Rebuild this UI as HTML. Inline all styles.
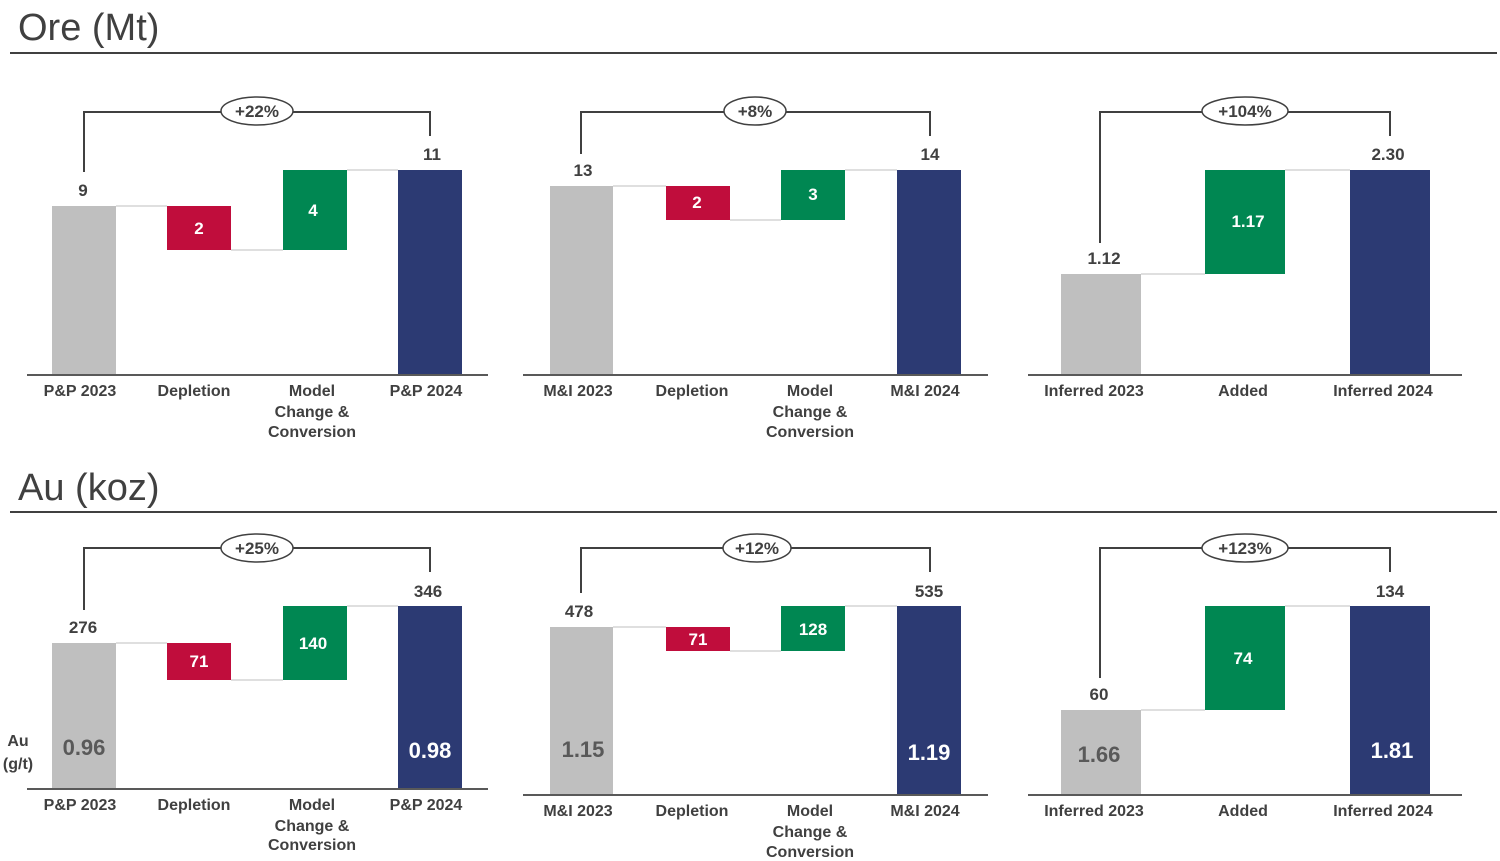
<!DOCTYPE html>
<html><head><meta charset="utf-8"><style>
html,body{margin:0;padding:0;background:#fff;}
svg{display:block;font-family:"Liberation Sans",Arial,sans-serif;}
.c{font-size:16px;font-weight:bold;fill:#404040;text-anchor:middle;}
.v{font-size:17px;font-weight:bold;fill:#404040;text-anchor:middle;}
.w{font-size:17px;font-weight:bold;fill:#fff;text-anchor:middle;}
.bg{font-size:22px;font-weight:bold;text-anchor:middle;}
.p{font-size:17px;font-weight:bold;fill:#404040;text-anchor:middle;}
.t{font-size:38px;fill:#404040;}
.br{fill:none;stroke:#404040;stroke-width:2;}
.cn{stroke:#bfbfbf;stroke-width:1;}
.ax{stroke:#595959;stroke-width:2;}
.el{fill:#fff;stroke:#404040;stroke-width:1.5;}
</style></head><body>
<svg width="1500" height="861" viewBox="0 0 1500 861">
<!-- titles -->
<text class="t" x="18" y="40">Ore (Mt)</text>
<line x1="10" y1="53" x2="1497" y2="53" stroke="#404040" stroke-width="2"/>
<text class="t" x="18" y="500">Au (koz)</text>
<line x1="10" y1="512" x2="1497" y2="512" stroke="#404040" stroke-width="2"/>

<!-- Ore panel 1 -->
<line class="cn" x1="116" y1="206" x2="167" y2="206"/><line class="cn" x1="231" y1="250" x2="283" y2="250"/><line class="cn" x1="347" y1="170" x2="398" y2="170"/>
<rect x="52" y="206" width="64" height="168" fill="#bfbfbf"/>
<rect x="167" y="206" width="64" height="44" fill="#c00d3c"/>
<rect x="283" y="170" width="64" height="80" fill="#008752"/>
<rect x="398" y="170" width="64" height="204" fill="#2c3a73"/>
<line class="ax" x1="27" y1="375" x2="488" y2="375"/>
<text class="v" x="83" y="196">9</text><text class="w" x="199" y="234">2</text><text class="w" x="313" y="216">4</text><text class="v" x="432" y="160">11</text>
<polyline class="br" points="84,172 84,112 430,112 430,136"/>
<ellipse class="el" cx="257" cy="111" rx="36" ry="14"/><text class="p" x="257" y="117">+22%</text>
<text class="c" x="80" y="396">P&amp;P 2023</text><text class="c" x="194" y="396">Depletion</text>
<text class="c" x="312" y="396">Model</text><text class="c" x="312" y="417">Change &amp;</text><text class="c" x="312" y="437">Conversion</text>
<text class="c" x="426" y="396">P&amp;P 2024</text>

<!-- Ore panel 2 -->
<line class="cn" x1="613" y1="186" x2="666" y2="186"/><line class="cn" x1="730" y1="220" x2="781" y2="220"/><line class="cn" x1="845" y1="170" x2="897" y2="170"/>
<rect x="550" y="186" width="63" height="188" fill="#bfbfbf"/>
<rect x="666" y="186" width="64" height="34" fill="#c00d3c"/>
<rect x="781" y="170" width="64" height="50" fill="#008752"/>
<rect x="897" y="170" width="64" height="204" fill="#2c3a73"/>
<line class="ax" x1="523" y1="375" x2="988" y2="375"/>
<text class="v" x="583" y="176">13</text><text class="w" x="697" y="208">2</text><text class="w" x="813" y="200">3</text><text class="v" x="930" y="160">14</text>
<polyline class="br" points="581,154 581,112 930,112 930,136"/>
<ellipse class="el" cx="755" cy="111" rx="31" ry="14"/><text class="p" x="755" y="117">+8%</text>
<text class="c" x="578" y="396">M&amp;I 2023</text><text class="c" x="692" y="396">Depletion</text>
<text class="c" x="810" y="396">Model</text><text class="c" x="810" y="417">Change &amp;</text><text class="c" x="810" y="437">Conversion</text>
<text class="c" x="925" y="396">M&amp;I 2024</text>

<!-- Ore panel 3 -->
<line class="cn" x1="1141" y1="274" x2="1205" y2="274"/><line class="cn" x1="1285" y1="170" x2="1350" y2="170"/>
<rect x="1061" y="274" width="80" height="100" fill="#bfbfbf"/>
<rect x="1205" y="170" width="80" height="104" fill="#008752"/>
<rect x="1350" y="170" width="80" height="204" fill="#2c3a73"/>
<line class="ax" x1="1028" y1="375" x2="1462" y2="375"/>
<text class="v" x="1104" y="264">1.12</text><text class="w" x="1248" y="227">1.17</text><text class="v" x="1388" y="160">2.30</text>
<polyline class="br" points="1100,243 1100,112 1390,112 1390,136"/>
<ellipse class="el" cx="1245" cy="111" rx="43" ry="14"/><text class="p" x="1245" y="117">+104%</text>
<text class="c" x="1094" y="396">Inferred 2023</text><text class="c" x="1243" y="396">Added</text><text class="c" x="1383" y="396">Inferred 2024</text>

<!-- Au panel 1 -->
<line class="cn" x1="116" y1="643" x2="167" y2="643"/><line class="cn" x1="231" y1="680" x2="283" y2="680"/><line class="cn" x1="347" y1="606" x2="398" y2="606"/>
<rect x="52" y="643" width="64" height="145" fill="#bfbfbf"/>
<rect x="167" y="643" width="64" height="37" fill="#c00d3c"/>
<rect x="283" y="606" width="64" height="74" fill="#008752"/>
<rect x="398" y="606" width="64" height="182" fill="#2c3a73"/>
<line class="ax" x1="27" y1="789" x2="488" y2="789"/>
<text class="v" x="83" y="633">276</text><text class="w" x="199" y="667">71</text><text class="w" x="313" y="649">140</text><text class="v" x="428" y="597">346</text>
<text class="bg" x="84" y="755" fill="#595959">0.96</text><text class="bg" x="430" y="758" fill="#fff">0.98</text>
<polyline class="br" points="84,610 84,548 430,548 430,572"/>
<ellipse class="el" cx="257" cy="548" rx="36" ry="14"/><text class="p" x="257" y="554">+25%</text>
<text class="c" x="18" y="746">Au</text><text class="c" x="18" y="769">(g/t)</text>
<text class="c" x="80" y="810">P&amp;P 2023</text><text class="c" x="194" y="810">Depletion</text>
<text class="c" x="312" y="810">Model</text><text class="c" x="312" y="831">Change &amp;</text><text class="c" x="312" y="850">Conversion</text>
<text class="c" x="426" y="810">P&amp;P 2024</text>

<!-- Au panel 2 -->
<line class="cn" x1="613" y1="627" x2="666" y2="627"/><line class="cn" x1="730" y1="651" x2="781" y2="651"/><line class="cn" x1="845" y1="606" x2="897" y2="606"/>
<rect x="550" y="627" width="63" height="167" fill="#bfbfbf"/>
<rect x="666" y="627" width="64" height="24" fill="#c00d3c"/>
<rect x="781" y="606" width="64" height="45" fill="#008752"/>
<rect x="897" y="606" width="64" height="188" fill="#2c3a73"/>
<line class="ax" x1="523" y1="795" x2="988" y2="795"/>
<text class="v" x="579" y="617">478</text><text class="w" x="698" y="645">71</text><text class="w" x="813" y="635">128</text><text class="v" x="929" y="597">535</text>
<text class="bg" x="583" y="757" fill="#595959">1.15</text><text class="bg" x="929" y="760" fill="#fff">1.19</text>
<polyline class="br" points="581,593 581,548 930,548 930,572"/>
<ellipse class="el" cx="757" cy="548" rx="34" ry="14"/><text class="p" x="757" y="554">+12%</text>
<text class="c" x="578" y="816">M&amp;I 2023</text><text class="c" x="692" y="816">Depletion</text>
<text class="c" x="810" y="816">Model</text><text class="c" x="810" y="837">Change &amp;</text><text class="c" x="810" y="857">Conversion</text>
<text class="c" x="925" y="816">M&amp;I 2024</text>

<!-- Au panel 3 -->
<line class="cn" x1="1141" y1="710" x2="1205" y2="710"/><line class="cn" x1="1285" y1="606" x2="1350" y2="606"/>
<rect x="1061" y="710" width="80" height="84" fill="#bfbfbf"/>
<rect x="1205" y="606" width="80" height="104" fill="#008752"/>
<rect x="1350" y="606" width="80" height="188" fill="#2c3a73"/>
<line class="ax" x1="1028" y1="795" x2="1462" y2="795"/>
<text class="v" x="1099" y="700">60</text><text class="w" x="1243" y="664">74</text><text class="v" x="1390" y="597">134</text>
<text class="bg" x="1099" y="762" fill="#595959">1.66</text><text class="bg" x="1392" y="758" fill="#fff">1.81</text>
<polyline class="br" points="1100,678 1100,548 1390,548 1390,572"/>
<ellipse class="el" cx="1245" cy="548" rx="43" ry="14"/><text class="p" x="1245" y="554">+123%</text>
<text class="c" x="1094" y="816">Inferred 2023</text><text class="c" x="1243" y="816">Added</text><text class="c" x="1383" y="816">Inferred 2024</text>
</svg>
</body></html>
